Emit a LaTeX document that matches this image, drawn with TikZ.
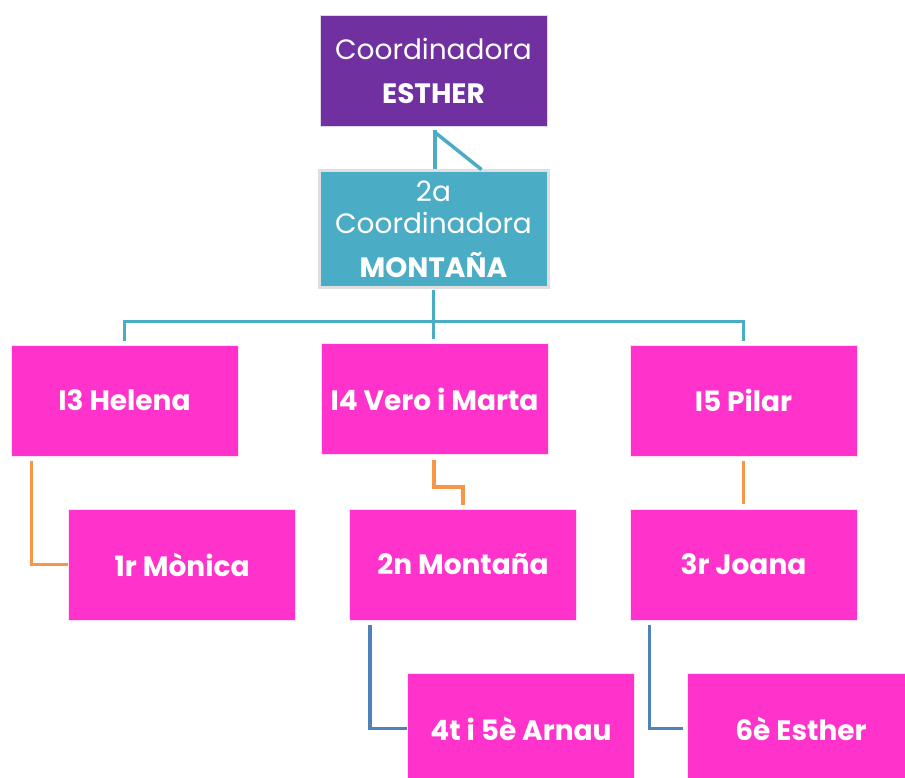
\documentclass[tikz,border=0pt]{standalone}
\usepackage{fontspec}
\setmainfont{Poppins}
\definecolor{cpurple}{HTML}{7030A0}
\definecolor{cteal}{HTML}{4BACC6}
\definecolor{cmag}{HTML}{FF33CC}
\definecolor{corange}{HTML}{F79646}
\definecolor{cblue}{HTML}{4F81BD}
\tikzset{
  box/.style={rectangle, draw=white!85!cmag, line width=0.8pt, text=white, align=center, inner sep=0pt},
  magbox/.style={box, fill=cmag, minimum width=227pt, minimum height=111pt, font=\fontsize{28}{32}\selectfont\bfseries},
  tealline/.style={draw=cteal, line width=3.5pt},
  orangeline/.style={draw=corange, line width=3.5pt},
  blueline/.style={draw=cblue, line width=3.5pt},
}
\begin{document}
\begin{tikzpicture}[x=1pt,y=-1pt]
\useasboundingbox (0,0) rectangle (905,778);
\clip (0,0) rectangle (905,778);
\fill[white] (0,0) rectangle (905,778);
\node[box, fill=cpurple, draw=white!80!cpurple, minimum width=227pt, minimum height=111pt, font=\fontsize{28}{32}\selectfont] (top) at (433.5,70.5) {Coordinadora\\[12pt]{\bfseries ESTHER}};
\node[box, fill=cteal, draw=gray!25, line width=3pt, minimum width=229pt, minimum height=116pt, font=\fontsize{28}{32}\selectfont] (m) at (433.5,229) {2a\\Coordinadora\\[12pt]{\bfseries MONTAÑA}};
\draw[tealline] ([xshift=1.5pt,yshift=-4pt]top.south) -- ([xshift=1.5pt]m.north);
\draw[tealline] ([xshift=1.5pt,yshift=-6pt]top.south) -- ([xshift=48pt]m.north);
\node[magbox] (h3) at (124.5,400.5) {I3 Helena};
\node[magbox] (h4) at (434.5,399) {I4 Vero i Marta};
\node[magbox] (h5) at (743.5,400.5) {I5 Pilar};
\node[magbox] (r1) at (182,564.5) {1r Mònica};
\node[magbox] (r2) at (463,564.5) {2n Montaña};
\node[magbox] (r3) at (743.5,564.5) {3r Joana};
\node[magbox] (r4) at (521,728.5) {4t i 5è Arnau};
\node[magbox] (r5) at (801,728.5) {6è Esther};
\draw[tealline] ([yshift=-1pt]m.south) -- ++(0,32) coordinate (bus);
\draw[tealline] (bus) -| ([yshift=4pt]h3.north);
\draw[tealline] (bus) -| ([yshift=4pt]h5.north);
\draw[tealline] (bus) -- ([yshift=4pt]h4.north -| bus);
\draw[orangeline] ([xshift=21pt,yshift=-5pt]h3.south west) |- (r1.west);
\draw[orangeline] ([xshift=-0.5pt,yshift=-5pt]h4.south) -- ++(0,27) -| ([yshift=4pt]r2.north);
\draw[orangeline] ([yshift=-5pt]h5.south) -- ([yshift=5pt]r3.north);
\draw[blueline] ([xshift=21pt,yshift=-5pt]r2.south west) |- (r4.west);
\draw[blueline] ([xshift=20pt,yshift=-5pt]r3.south west) |- ([xshift=-4pt]r5.west);
\end{tikzpicture}
\end{document}
